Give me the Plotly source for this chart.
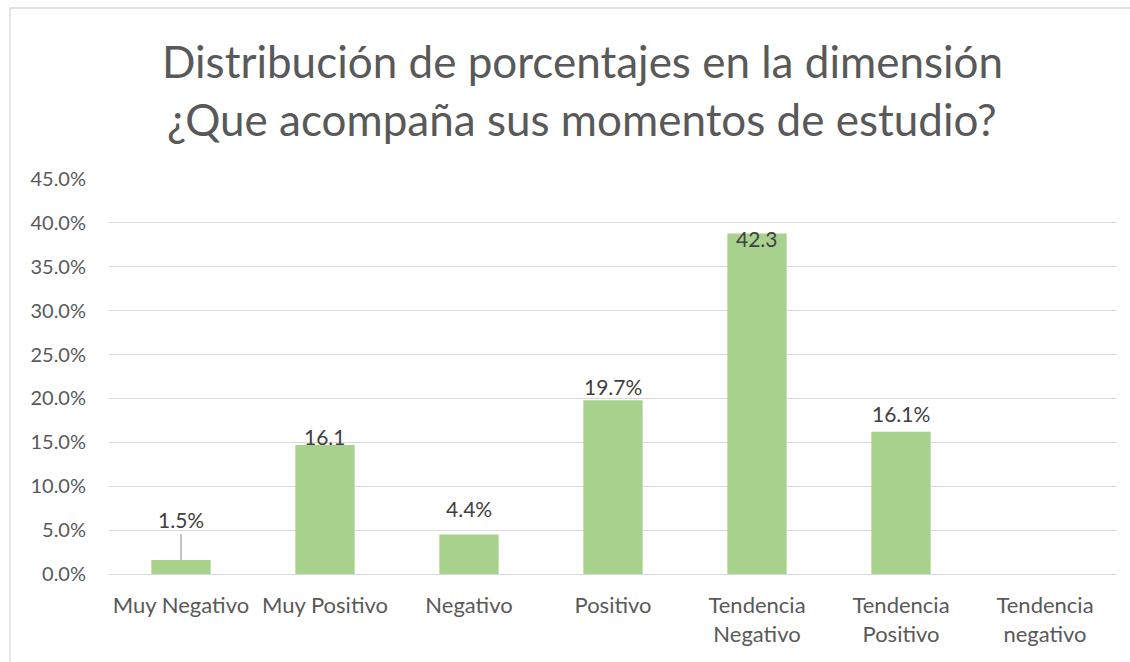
import plotly.graph_objects as go

categories = ["Muy Negativo", "Muy Positivo", "Negativo", "Positivo",
              "Tendencia<br>Negativo", "Tendencia<br>Positivo", "Tendencia<br>negativo"]
values = [1.6, 14.7, 4.5, 19.8, 38.8, 16.2, 0.0]          # bar heights (%)
labels = ["1.5%", "16.1", "4.4%", "19.7%", "42.3", "16.1%", ""]  # data labels as shown
title_lines = ["Distribución de porcentajes en la dimensión",
               "¿Que acompaña sus momentos de estudio?"]
y_ticks = [0, 5, 10, 15, 20, 25, 30, 35, 40, 45]

# label placement styles (pixels)
label_mode = ["leader", "above", "above", "above", "inside", "above", None]
label_shift = [0, -6, 12, -1, 9, 4, 0]

FONT = "Lato"
W, H = 1130, 662
L, R, T, B = 109, 13, 179, 88
ph = H - T - B

def py(p):
    return (H - B - p) / ph

def px(p):
    return (p - L) / (W - L - R)

fig = go.Figure()
fig.add_trace(go.Bar(
    x=categories, y=[v / 100 for v in values],
    marker=dict(color="#A9D18E", line=dict(width=0)),
    hoverinfo="skip", showlegend=False,
))

annotations = []
for cat, v, lab, mode, sh in zip(categories, values, labels, label_mode, label_shift):
    if not lab or mode is None:
        continue
    base = dict(x=cat, y=v / 100, xref="x", yref="y", text=lab,
                font=dict(family=FONT, size=21, color="#404040"))
    if mode == "leader":
        annotations.append(dict(base, showarrow=True, arrowhead=0, arrowwidth=1.3,
                                arrowcolor="#A6A6A6", ax=0, ay=-40, standoff=0,
                                startstandoff=0))
    elif mode == "inside":
        annotations.append(dict(base, showarrow=False, yanchor="top", yshift=sh))
    else:
        annotations.append(dict(base, showarrow=False, yanchor="bottom", yshift=sh))

for i, (line, yp) in enumerate(zip(title_lines, [61, 119])):
    annotations.append(dict(text=line, x=px(582), y=py(yp), xref="paper", yref="paper",
                            xanchor="center", yanchor="middle", showarrow=False,
                            font=dict(family=FONT, size=44, color="#595959")))

fig.update_layout(
    width=W, height=H,
    margin=dict(l=L, r=R, t=T, b=B),
    paper_bgcolor="white", plot_bgcolor="white",
    bargap=0.588,
    annotations=annotations,
    shapes=[dict(type="rect", xref="paper", yref="paper",
                 x0=px(10), x1=px(1140), y0=py(675), y1=py(8),
                 line=dict(color="#D9D9D9", width=1.3), fillcolor="rgba(0,0,0,0)",
                 layer="below")],
    font=dict(family=FONT, color="#595959"),
)
fig.update_yaxes(range=[0, 0.45], tickvals=[t / 100 for t in y_ticks], tickformat=".1%",
                 showgrid=True, gridcolor="#D9D9D9", gridwidth=1.3,
                 zeroline=True, zerolinecolor="#D9D9D9", zerolinewidth=1.3,
                 showline=False, ticks="", ticklabelstandoff=22,
                 tickfont=dict(family=FONT, size=20, color="#595959"), fixedrange=True)
fig.update_xaxes(showgrid=False, showline=False, ticks="", ticklabelstandoff=16,
                 tickfont=dict(family=FONT, size=22, color="#595959"), fixedrange=True)

fig.write_html("out.html", config={"displayModeBar": False},
               post_script="document.body.style.margin='0';")
